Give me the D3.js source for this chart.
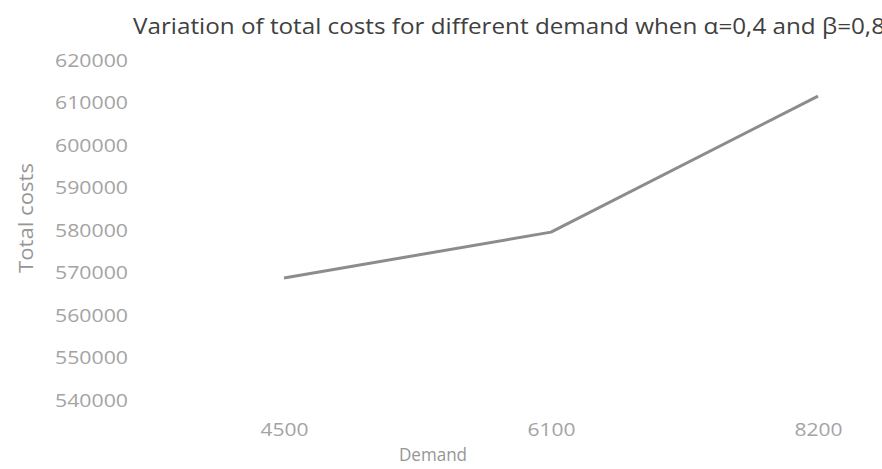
<!DOCTYPE html>
<html>
<head>
<meta charset="utf-8">
<script src="https://cdn.jsdelivr.net/npm/d3@7"></script>
<style>
body{margin:0;background:#fff;}
text{font-family:"Open Sans","Noto Sans",sans-serif;}
</style>
</head>
<body>
<div id="chart"></div>
<script>
(function(){

var width = 882,
	height = 469;

// data
var demand = ["4500","6100","8200"];
var totalCosts = [568700, 579500, 611500];
var yTicks = [540000,550000,560000,570000,580000,590000,600000,610000,620000];

var titleText = "Variation of total costs for different demand when \u03b1=0,4 and \u03b2=0,8",
	xTitle = "Demand",
	yTitle = "Total costs";

var X = d3.scalePoint().domain(demand).range([284,818]);
var Y = d3.scaleLinear().domain([540000,620000]).range([400,60]);

var svg = d3.select("#chart").append("svg")
	.attr("width",width)
	.attr("height",height)

svg.append("rect").attr("width",width).attr("height",height).style("fill","#fff")

// title
svg.append("text")
	.attr("x",133).attr("y",34)
	.attr("textLength",752).attr("lengthAdjust","spacingAndGlyphs")
	.style("font-size","21px")
	.style("fill","#404040")
	.text(titleText)

// y axis (labels only, no line)
var yAxis = svg.append("g")
	.attr("transform","translate(128,0)")
	.call(d3.axisLeft(Y).tickValues(yTicks).tickSize(0).tickPadding(0).tickFormat(d3.format("d")))

yAxis.select(".domain").remove()
yAxis.selectAll("text")
	.attr("textLength",73).attr("lengthAdjust","spacingAndGlyphs")
	.style("font-size","18.5px")
	.style("fill","#a4a4a4")
	.attr("dy","0.35em")

// x axis labels
var xAxis = svg.append("g")
	.attr("transform","translate(0,420)")
	.call(d3.axisBottom(X).tickSize(0).tickPadding(0))

xAxis.select(".domain").remove()
xAxis.selectAll("text")
	.attr("textLength",48).attr("lengthAdjust","spacingAndGlyphs")
	.attr("dy","0.35em")
	.attr("y",10)
	.style("font-size","18.5px")
	.style("fill","#a4a4a4")

// axis titles
svg.append("text")
	.attr("x",433).attr("y",461)
	.attr("text-anchor","middle")
	.attr("textLength",68).attr("lengthAdjust","spacingAndGlyphs")
	.style("font-size","19px")
	.style("fill","#969696")
	.text(xTitle)

svg.append("text")
	.attr("transform","translate(33,218) rotate(-90)")
	.attr("text-anchor","middle")
	.attr("textLength",110).attr("lengthAdjust","spacingAndGlyphs")
	.style("font-size","20px")
	.style("fill","#969696")
	.text(yTitle)

// the line
var line = d3.line()
	.x(function(d,i){return X(demand[i])})
	.y(function(d){return Y(d)})

svg.append("path")
	.datum(totalCosts)
	.attr("d",line)
	.style("fill","none")
	.style("stroke","#8c8c8c")
	.style("stroke-width",3)
	.style("stroke-linejoin","round")

})()
</script>
</body>
</html>
